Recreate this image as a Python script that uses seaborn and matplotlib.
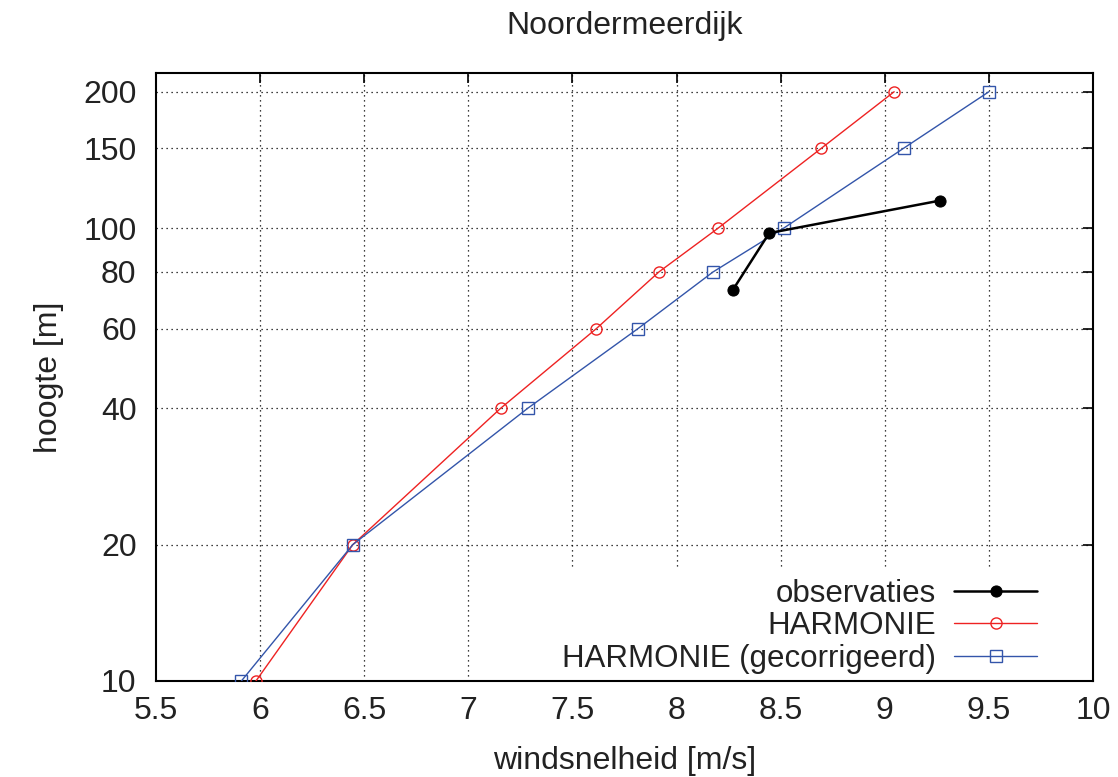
import matplotlib
matplotlib.use("Agg")
import matplotlib.pyplot as plt
import seaborn as sns
import pandas as pd
from matplotlib.ticker import FixedLocator, FixedFormatter, NullLocator

# Data
obs_x = [8.27, 8.445, 9.265]
obs_y = [73, 97.5, 115]
harm_x = [5.98, 6.445, 7.155, 7.615, 7.915, 8.20, 8.695, 9.045]
harm_y = [10, 20, 40, 60, 80, 100, 150, 200]
corr_x = [5.91, 6.445, 7.285, 7.815, 8.175, 8.515, 9.09, 9.50]
corr_y = [10, 20, 40, 60, 80, 100, 150, 200]
yticks = [10, 20, 40, 60, 80, 100, 150, 200]
xticks = [5.5, 6, 6.5, 7, 7.5, 8, 8.5, 9, 9.5, 10]
xticklabels = ["5.5", "6", "6.5", "7", "7.5", "8", "8.5", "9", "9.5", "10"]

sns.set_theme(style="white")
plt.rcParams['font.family'] = ['Liberation Sans', 'DejaVu Sans']

fig = plt.figure(figsize=(11.18, 7.77), dpi=100)
ax = fig.add_axes([156/1118, 1-681/777, (1093-156)/1118, (681-73)/777])

red = "#ee2222"
blue = "#3355aa"
txt = "#222222"

sns.lineplot(x=obs_x, y=obs_y, sort=False, estimator=None, ax=ax, color="black",
             lw=1.8, marker="o", markersize=8, markerfacecolor="black",
             markeredgecolor="black", label="observaties", zorder=5)
sns.lineplot(x=harm_x, y=harm_y, sort=False, estimator=None, ax=ax, color=red,
             lw=1.0, marker="o", markersize=8, markerfacecolor="none",
             markeredgecolor=red, markeredgewidth=1.0, label="HARMONIE", zorder=4)
sns.lineplot(x=corr_x, y=corr_y, sort=False, estimator=None, ax=ax, color=blue,
             lw=1.0, marker="s", markersize=8, markerfacecolor="none",
             markeredgecolor=blue, markeredgewidth=1.0, label="HARMONIE (gecorrigeerd)", zorder=4)

ax.set_yscale("log")
ax.set_xlim(5.5, 10)
ax.set_ylim(10, 220)
ax.yaxis.set_major_locator(FixedLocator(yticks))
ax.yaxis.set_major_formatter(FixedFormatter([str(v) for v in yticks]))
ax.yaxis.set_minor_locator(NullLocator())
ax.xaxis.set_major_locator(FixedLocator(xticks))
ax.xaxis.set_major_formatter(FixedFormatter(xticklabels))

# dotted grid drawn at tick positions, beneath the legend box
ax.grid(False)
gls = dict(color="black", linestyle=(0, (1, 3)), linewidth=0.9, zorder=0.5)
for xv in xticks[1:-1]:
    ax.axvline(xv, **gls)
for yv in yticks[1:]:
    ax.axhline(yv, **gls)

for s in ax.spines.values():
    s.set_color("black")
    s.set_linewidth(1.5)
    s.set_zorder(3)
ax.tick_params(axis="both", which="major", direction="in", length=7, width=1.2,
               top=True, right=True, labelsize=23, colors="black", labelcolor=txt, pad=11)
ax.tick_params(axis="y", pad=14)

ax.set_xlabel("windsnelheid [m/s]", fontsize=23, labelpad=14, color=txt)
ax.set_ylabel("hoogte [m]", fontsize=23, labelpad=14, color=txt)
ax.set_title("Noordermeerdijk", fontsize=23, pad=28, color=txt)

leg = ax.legend(loc="lower right", bbox_to_anchor=(0.967, -0.029), markerfirst=False,
                fontsize=22.5, frameon=True, facecolor="white", edgecolor="none",
                framealpha=1, handlelength=2.65, handletextpad=0.6,
                labelspacing=0.08, borderpad=0.3, fancybox=False)
leg.set_zorder(2.2)
for t in leg.get_texts():
    t.set_color(txt)

fig.savefig("out.png", dpi=100)
